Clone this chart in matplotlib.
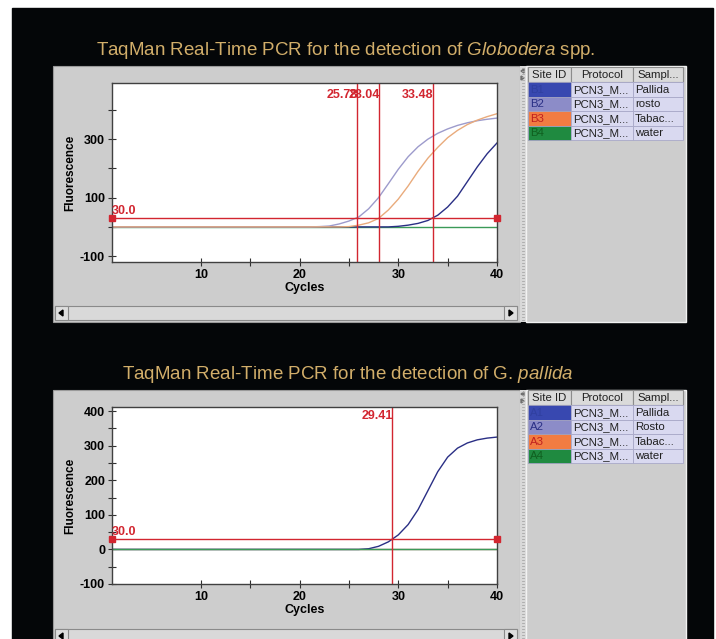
import matplotlib
matplotlib.use("Agg")
import matplotlib.pyplot as plt
from matplotlib.patches import Rectangle, Polygon

plt.rcParams['font.family'] = ['Liberation Sans', 'DejaVu Sans']
plt.rcParams['mathtext.fontset'] = 'custom'
plt.rcParams['mathtext.rm'] = 'Liberation Sans'
plt.rcParams['mathtext.it'] = 'Liberation Sans:italic'

# cycles 1..40
cycles = list(range(1, 41))

# top run (Globodera spp.)
top_pallida = [0] * 29 + [2, 6, 12, 22, 40, 68, 105, 155, 205, 250, 287]
top_rosto = [0] * 21 + [1, 3, 10, 20, 34, 62, 100, 148, 197, 240, 274, 300, 320, 335, 347, 356, 363, 368, 372]
top_tabac = [0] * 24 + [1, 6, 14, 29, 58, 95, 140, 190, 235, 272, 305, 330, 350, 365, 377, 387]
top_water = [0] * 40
top_ct = [25.78, 28.04, 33.48]
top_ct_labels = ["25.78", "28.04", "33.48"]

# bottom run (G. pallida)
bot_pallida = [0] * 26 + [2, 9, 22, 42, 72, 115, 170, 225, 267, 293, 308, 317, 322, 325]
bot_rosto = [0] * 40
bot_tabac = [0] * 40
bot_water = [0] * 40
bot_ct = [29.41]
bot_ct_labels = ["29.41"]

threshold = 30.0

site_top = ["B1", "B2", "B3", "B4"]
site_bot = ["A1", "A2", "A3", "A4"]
protocols = ["PCN3_M...", "PCN3_M...", "PCN3_M...", "PCN3_M..."]
samples_top = ["Pallida", "rosto", "Tabac...", "water"]
samples_bot = ["Pallida", "Rosto", "Tabac...", "water"]

c_pallida = "#2a2f85"
c_rosto = "#9d9bcc"
c_tabac = "#e9ab7c"
c_water = "#3b9a58"
c_red = "#d22630"
cell_colors = ["#3848b0", "#8c8cc8", "#f27c42", "#1f8a40"]
cell_text = ["#3040a0", "#2a2f85", "#c02020", "#106020"]
gold = "#d2ae6a"
panel = "#cdcdcd"

W, H = 716, 639
fig = plt.figure(figsize=(W / 100, H / 100), dpi=100, facecolor="white")

# background drawn in pixel coordinates
bg = fig.add_axes([0, 0, 1, 1], zorder=0)
bg.set_xlim(0, W)
bg.set_ylim(H, 0)
bg.axis("off")
bg.add_patch(Rectangle((12, 8), 701, 631, color="#040608"))


def draw_panel(y0, y1, sites, samples, ttop):
    # chart panel + splitter + table panel
    bg.add_patch(Rectangle((53, y0), 467, y1 - y0, facecolor=panel, edgecolor="#9a9a9a", lw=0.8))
    bg.add_patch(Rectangle((520, y0), 6, y1 - y0, facecolor="#d8d8d8", edgecolor="none"))
    for yy in range(int(y0) + 2, int(y1), 3):
        bg.plot([522, 524], [yy, yy], color="#a8a8a8", lw=0.6)
    bg.add_patch(Rectangle((526, y0), 160, y1 - y0, facecolor=panel, edgecolor="#f2f2f2", lw=1))
    # scrollbar
    sy = y1 - 16
    bg.add_patch(Rectangle((55, sy), 462, 14, facecolor="#d9d9d9", edgecolor="#8a8a8a", lw=0.8))
    bg.add_patch(Rectangle((55, sy), 13, 14, facecolor="#dedede", edgecolor="#8a8a8a", lw=0.8))
    bg.add_patch(Rectangle((504, sy), 13, 14, facecolor="#dedede", edgecolor="#8a8a8a", lw=0.8))
    bg.add_patch(Polygon([[63, sy + 4], [63, sy + 10], [59, sy + 7]], color="black"))
    bg.add_patch(Polygon([[509, sy + 4], [509, sy + 10], [513, sy + 7]], color="black"))
    # little arrows on the splitter
    bg.add_patch(Polygon([[524, ttop + 2], [524, ttop + 6], [521, ttop + 4]], color="#707070"))
    bg.add_patch(Polygon([[521, ttop + 9], [521, ttop + 13], [524, ttop + 11]], color="#707070"))
    # table
    cols = [(528, 43), (571, 62), (633, 50)]
    hh = 15
    rh = 14.5
    for (cx, cw), name in zip(cols, ["Site ID", "Protocol", "Sampl..."]):
        bg.add_patch(Rectangle((cx, ttop), cw, hh, facecolor="#dadada", edgecolor="#8c8c8c", lw=0.8))
        bg.text(cx + cw / 2, ttop + hh / 2 + 0.5, name, fontsize=8.2, ha="center", va="center", color="#202020")
    for i in range(4):
        ry = ttop + hh + i * rh
        bg.add_patch(Rectangle((cols[0][0], ry), cols[0][1], rh, facecolor=cell_colors[i], edgecolor="#a0a0c0", lw=0.6))
        bg.text(cols[0][0] + 2, ry + rh / 2 + 0.5, sites[i], fontsize=8.2, va="center", color=cell_text[i])
        for (cx, cw), txt in zip(cols[1:], [protocols[i], samples[i]]):
            bg.add_patch(Rectangle((cx, ry), cw, rh, facecolor="#d9d9f0", edgecolor="#a8a8c8", lw=0.6))
            bg.text(cx + 2, ry + rh / 2 + 0.5, txt, fontsize=8.2, va="center", color="#202020")


draw_panel(66, 322, site_top, samples_top, 67)
draw_panel(390, 645, site_bot, samples_bot, 390)

bg.text(346, 55, r"TaqMan Real-Time PCR for the detection of $\mathit{Globodera}$ spp.",
        fontsize=13.5, color=gold, ha="center", va="baseline")
bg.text(348, 379, r"TaqMan Real-Time PCR for the detection of G. $\mathit{pallida}$",
        fontsize=13.5, color=gold, ha="center", va="baseline")


def draw_chart(rect, series, ylim, yticks, ylabels, ct, ct_labels, ct_off):
    ax = fig.add_axes(rect, zorder=2)
    ax.set_facecolor("white")
    for vals, col in series:
        ax.plot(cycles, vals, color=col, lw=1.0)
    ax.plot([1, 40], [threshold, threshold], color=c_red, lw=1.0, marker="s", ms=5,
            markevery=[0, 1], clip_on=False, zorder=5)
    ax.annotate("30.0", (1, threshold), xytext=(0, 1), textcoords="offset points",
                color=c_red, fontsize=9, fontweight="bold", va="bottom")
    for x, lab in zip(ct, ct_labels):
        ax.axvline(x, color=c_red, lw=1.0)
        ax.annotate(lab, (x, 1), xycoords=("data", "axes fraction"), xytext=(0.5, -ct_off),
                    textcoords="offset points", ha="right", va="top", color=c_red,
                    fontsize=9, fontweight="bold")
    ax.set_xlim(1, 40)
    ax.set_ylim(*ylim)
    ax.set_xticks([10, 15, 20, 25, 30, 35, 40])
    ax.set_xticklabels(["10", "", "20", "", "30", "", "40"])
    ax.set_yticks(yticks)
    ax.set_yticklabels(ylabels)
    ax.tick_params(direction="inout", length=6, width=0.8, color="#303030", labelsize=9, pad=2)
    for lab in ax.get_xticklabels() + ax.get_yticklabels():
        lab.set_fontweight("bold")
    for sp in ax.spines.values():
        sp.set_color("#404040")
        sp.set_linewidth(1.0)
    ax.set_xlabel("Cycles", fontsize=9, fontweight="bold", labelpad=1)
    ax.set_ylabel("Fluorescence", fontsize=8.5, fontweight="bold", labelpad=3)
    return ax


top_series = [(top_water, c_water), (top_pallida, c_pallida), (top_rosto, c_rosto), (top_tabac, c_tabac)]
draw_chart([112 / W, 1 - 262 / H, 385 / W, 179 / H], top_series, (-120, 492),
           [-100, 0, 100, 200, 300, 400], ["-100", "", "100", "", "300", ""],
           top_ct, top_ct_labels, 4)

bot_series = [(bot_rosto, c_rosto), (bot_tabac, c_tabac), (bot_pallida, c_pallida), (bot_water, c_water)]
bot_ticks = [-100, -50, 0, 50, 100, 150, 200, 250, 300, 350, 400]
bot_labels = ["-100", "", "0", "", "100", "", "200", "", "300", "", "400"]
draw_chart([112 / W, 1 - 584 / H, 385 / W, 177 / H], bot_series, (-100, 412),
           bot_ticks, bot_labels, bot_ct, bot_ct_labels, 2)

fig.savefig("out.png", dpi=100, facecolor=fig.get_facecolor())
